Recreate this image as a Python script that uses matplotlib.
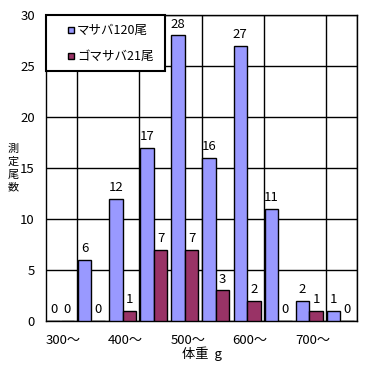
import matplotlib
matplotlib.use('Agg')
import matplotlib.pyplot as plt
from matplotlib.patches import Rectangle
import numpy as np

plt.rcParams['font.family'] = ['Noto Sans CJK JP', 'DejaVu Sans']

# データ
階級 = ['300～', '350～', '400～', '450～', '500～', '550～', '600～', '650～', '700～', '750～']
マサバ = [0, 6, 12, 17, 28, 16, 27, 11, 2, 1]
ゴマサバ = [0, 0, 1, 7, 7, 3, 2, 0, 1, 0]
系列名 = ['マサバ120尾', 'ゴマサバ21尾']
色 = ['#9999FF', '#993366']

fs = 9.5
W, H = 375, 366

def px(x, y):
    # 上左基準のピクセル → figure座標
    return x / W, 1 - y / H

fig = plt.figure(figsize=(3.75, 3.66), dpi=100)
ax = fig.add_axes([46 / W, 45 / H, 311 / W, 306 / H])

x = np.arange(len(階級))
w = 0.43
b1 = ax.bar(x + 0.03, マサバ, width=w, align='edge', color=色[0], edgecolor='black', linewidth=1, zorder=3)
b2 = ax.bar(x + 0.47, ゴマサバ, width=w, align='edge', color=色[1], edgecolor='black', linewidth=1, zorder=3)

# 値ラベル
for bars, vals in ((b1, マサバ), (b2, ゴマサバ)):
    for r, v in zip(bars, vals):
        ax.annotate(str(v), (r.get_x() + r.get_width() / 2, v), xytext=(0, 5.5),
                    textcoords='offset points', ha='center', va='baseline', fontsize=fs, zorder=4)

ax.set_xlim(0, 10)
ax.set_ylim(0, 30)
ax.set_yticks(range(0, 31, 5))
ax.set_xticks(range(0, 10, 2))
ax.set_xticklabels(階級[::2], ha='left')
ax.set_xticks(range(11), minor=True)
ax.tick_params(axis='both', which='both', length=0, labelsize=fs)
ax.tick_params(axis='x', pad=9)
ax.tick_params(axis='y', pad=8)
ax.grid(True, axis='y', which='major', color='black', linewidth=1, zorder=0)
ax.grid(True, axis='x', which='minor', color='black', linewidth=1, zorder=0)
for s in ax.spines.values():
    s.set_linewidth(1)

ax.set_xlabel('体重  g', fontsize=fs, labelpad=0)
# 縦書きの軸ラベル
for i, ch in enumerate('測定尾数'):
    fig.text(*px(13, 149 + i * 12.7), ch, fontsize=8, ha='center', va='center')

# 凡例（Excel風の枠）
x0, y0 = px(46, 71)
x1, y1 = px(165, 15)
fig.patches.append(Rectangle((x0, y0), x1 - x0, y1 - y0, transform=fig.transFigure,
                             facecolor='white', edgecolor='black', linewidth=1.5, zorder=5))
for i, (lab, c) in enumerate(zip(系列名, 色)):
    cy = 30 + i * 26
    sx, sy = px(68, cy + 3)
    fig.patches.append(Rectangle((sx, sy), 6 / W, 6 / H, transform=fig.transFigure,
                                 facecolor=c, edgecolor='black', linewidth=1, zorder=6))
    fig.text(*px(77, cy), lab, fontsize=9, ha='left', va='center', zorder=7)

plt.savefig('out.png', dpi=100)
plt.close()
